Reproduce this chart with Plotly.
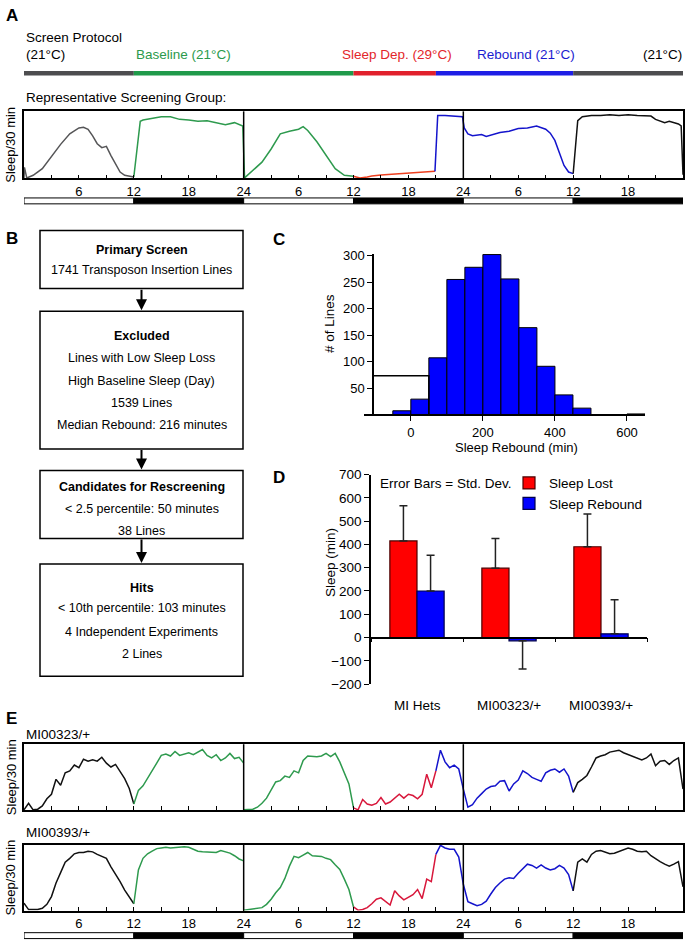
import plotly.graph_objects as go

W, H = 685, 952
def px(x):
    return x / W
def py(y):
    return 1 - y / H

FONT = "Liberation Sans, Arial, sans-serif"

# ---------------- Panel A : representative screening group (fraction of max sleep / 30 min) ----
a_gray_h = [0, 0.05, 0.3, 1, 2, 3, 4, 5, 6, 6.5, 7, 7.5, 8, 8.5, 9, 9.5, 10, 10.5, 11, 12]
a_gray = [0.0, 0.16, 0.0, 0.04, 0.14, 0.32, 0.51, 0.67, 0.76, 0.77, 0.74, 0.64, 0.52, 0.46, 0.48, 0.34, 0.21, 0.09, 0.04, 0.015]
a_green_h = [12, 12.7, 13, 14, 15, 16, 17, 18, 19, 20, 21, 22, 23, 23.9, 24.1, 25, 26, 27, 28, 29, 30, 30.5, 31, 32, 33, 34, 35, 36]
a_green = [0.015, 0.86, 0.88, 0.90, 0.93, 0.93, 0.89, 0.88, 0.86, 0.87, 0.84, 0.81, 0.84, 0.79, 0.0, 0.11, 0.24, 0.44, 0.67, 0.71, 0.74, 0.78, 0.72, 0.55, 0.34, 0.14, 0.04, 0.025]
a_red_h = [36, 36.7, 37.5, 38, 39, 40, 41, 42, 43, 44, 44.9]
a_red = [0.025, 0.0, 0.015, 0.03, 0.045, 0.055, 0.065, 0.072, 0.08, 0.09, 0.10]
a_blue_h = [44.9, 45.2, 46, 47, 47.9, 48.1, 48.5, 49, 50, 50.5, 51, 52, 53, 54, 55, 56, 57, 57.5, 58, 58.5, 59, 59.5, 60]
a_blue = [0.10, 0.95, 0.95, 0.94, 0.93, 0.76, 0.67, 0.64, 0.66, 0.63, 0.65, 0.69, 0.71, 0.75, 0.76, 0.79, 0.74, 0.68, 0.57, 0.37, 0.19, 0.09, 0.065]
a_black_h = [60, 60.5, 61, 62, 63, 64, 65, 66, 67, 68, 68.5, 69, 69.5, 70, 70.5, 71, 71.5, 71.8, 72]
a_black = [0.065, 0.87, 0.93, 0.95, 0.95, 0.96, 0.95, 0.96, 0.95, 0.95, 0.94, 0.89, 0.86, 0.84, 0.86, 0.84, 0.82, 0.79, 0.05]

# ---------------- Panel E : half-hour sleep traces, segments start at given hour -------------
e1_black1 = [0.0, 0.10, 0.0, 0.01, 0.06, 0.17, 0.24, 0.47, 0.38, 0.57, 0.60, 0.69, 0.65, 0.78, 0.75, 0.77, 0.75, 0.81, 0.72, 0.66, 0.70, 0.60, 0.48, 0.33, 0.09]
e1_green1 = [0.09, 0.30, 0.37, 0.48, 0.60, 0.72, 0.84, 0.86, 0.83, 0.90, 0.84, 0.86, 0.88, 0.85, 0.89, 0.93, 0.84, 0.80, 0.85, 0.76, 0.80, 0.87, 0.79, 0.81, 0.72]
e1_green2 = [0.0, 0.01, 0.01, 0.04, 0.10, 0.18, 0.30, 0.43, 0.45, 0.52, 0.50, 0.60, 0.57, 0.76, 0.83, 0.82, 0.82, 0.83, 0.87, 0.82, 0.87, 0.74, 0.58, 0.40, 0.03]
e1_red = [0.03, 0.0, 0.16, 0.09, 0.07, 0.10, 0.19, 0.09, 0.12, 0.18, 0.24, 0.18, 0.24, 0.22, 0.17, 0.24, 0.55, 0.34, 0.60]
e1_blue = [0.60, 0.92, 0.74, 0.65, 0.69, 0.63, 0.32, 0.04, 0.08, 0.18, 0.25, 0.32, 0.36, 0.37, 0.44, 0.45, 0.29, 0.40, 0.46, 0.60, 0.56, 0.50, 0.47, 0.44, 0.57, 0.61, 0.63, 0.58, 0.63, 0.52, 0.27]
e1_black2 = [0.27, 0.42, 0.47, 0.53, 0.66, 0.80, 0.83, 0.85, 0.89, 0.91, 0.92, 0.88, 0.85, 0.82, 0.80, 0.77, 0.80, 0.86, 0.68, 0.75, 0.76, 0.70, 0.76, 0.80, 0.32]

e2_black1 = [0.11, 0.01, 0.01, 0.01, 0.03, 0.09, 0.21, 0.42, 0.58, 0.74, 0.80, 0.87, 0.89, 0.89, 0.91, 0.90, 0.86, 0.83, 0.80, 0.67, 0.56, 0.44, 0.31, 0.21, 0.10]
e2_green1 = [0.10, 0.62, 0.80, 0.87, 0.91, 0.95, 0.96, 0.97, 0.96, 0.97, 0.98, 0.98, 0.97, 0.94, 0.91, 0.90, 0.90, 0.89, 0.89, 0.92, 0.90, 0.88, 0.84, 0.79, 0.76]
e2_green2 = [0.0, 0.01, 0.01, 0.02, 0.04, 0.09, 0.17, 0.27, 0.35, 0.49, 0.68, 0.83, 0.81, 0.85, 0.89, 0.84, 0.84, 0.83, 0.80, 0.78, 0.70, 0.63, 0.48, 0.32, 0.05]
e2_red = [0.05, 0.0, 0.01, 0.04, 0.10, 0.17, 0.19, 0.13, 0.08, 0.30, 0.22, 0.16, 0.20, 0.24, 0.32, 0.18, 0.48, 0.44, 0.86]
e2_blue = [0.86, 1.0, 0.96, 0.94, 0.94, 0.82, 0.40, 0.13, 0.10, 0.07, 0.09, 0.14, 0.25, 0.35, 0.42, 0.48, 0.50, 0.49, 0.57, 0.64, 0.71, 0.69, 0.65, 0.70, 0.65, 0.62, 0.64, 0.69, 0.65, 0.55, 0.30]
e2_black2 = [0.30, 0.74, 0.79, 0.74, 0.86, 0.91, 0.92, 0.89, 0.87, 0.88, 0.91, 0.94, 0.96, 0.94, 0.91, 0.90, 0.91, 0.84, 0.79, 0.75, 0.71, 0.68, 0.71, 0.75, 0.36]

# ---------------- Panel C : histogram of sleep rebound --------------------------------------
hist_left = [-50, 0, 50, 100, 150, 200, 250, 300, 350, 400, 450, 600]
hist_counts = [7, 29, 107, 255, 278, 302, 256, 164, 91, 37, 12, 1]
hist_bin = 50
cutoff_min = 50
cutoff_lines = 73
hist_axis_x = -105

# ---------------- Panel D : sleep lost / rebound ---------------------------------------------
d_groups = ['MI Hets', 'MI00323/+', 'MI00393/+']
d_lost = [415, 298, 390]
d_lost_sd = [151, 127, 141]
d_rebound = [200, -14, 16]
d_rebound_sd = [153, 121, 146]

# ---------------- axis text -------------------------------------------------------------------
hour_ticks = list(range(3, 72, 3))
hour_labels = ['', '6', '', '12', '', '18', '', '24', '', '6', '', '12', '', '18', '', '24',
               '', '6', '', '12', '', '18', '']
ld_start = [0, 12, 24, 36, 48, 60]
ld_fill = ['white', 'black', 'white', 'black', 'white', 'black']
proto_start = [0, 12, 36, 45, 60]
proto_end = [12, 36, 45, 60, 72]
proto_color = ['#4d4d4f', '#1f9a4a', '#e1202c', '#1e1ee6', '#4d4d4f']

C_GRAY = '#555557'
C_GREEN = '#2e9a4e'
C_RED_A = '#ee4020'
C_RED_E = '#d8173b'
C_BLUE = '#1414cc'
C_BLACK = '#111111'

fig = go.Figure()

def line_trace(xs, ys, color, xa, ya):
    fig.add_trace(go.Scatter(x=xs, y=ys, mode='lines', line=dict(color=color, width=1.5),
                             xaxis=xa, yaxis=ya, showlegend=False, hoverinfo='skip'))

for hs, vs, col in [(a_gray_h, a_gray, C_GRAY), (a_green_h, a_green, C_GREEN),
                    (a_red_h, a_red, C_RED_A), (a_blue_h, a_blue, C_BLUE),
                    (a_black_h, a_black, C_BLACK)]:
    line_trace(hs, vs, col, 'x', 'y')

def seg_hours(start, vals):
    return [start + 0.5 * i for i in range(len(vals))]

for (xa, ya), segs in [(('x4', 'y4'), [(0, e1_black1, C_BLACK), (12, e1_green1, C_GREEN),
                                       (24, e1_green2, C_GREEN), (36, e1_red, C_RED_E),
                                       (45, e1_blue, C_BLUE), (60, e1_black2, C_BLACK)]),
                       (('x5', 'y5'), [(0, e2_black1, C_BLACK), (12, e2_green1, C_GREEN),
                                       (24, e2_green2, C_GREEN), (36, e2_red, C_RED_E),
                                       (45, e2_blue, C_BLUE), (60, e2_black2, C_BLACK)])]:
    for st, vals, col in segs:
        line_trace(seg_hours(st, vals), vals, col, xa, ya)

# histogram
fig.add_trace(go.Bar(x=hist_left, y=hist_counts, width=hist_bin, offset=0,
                     marker=dict(color='#0000ff', line=dict(color='black', width=1)),
                     xaxis='x2', yaxis='y2', showlegend=False, hoverinfo='skip'))
fig.add_trace(go.Scatter(x=[hist_axis_x, cutoff_min, cutoff_min], y=[cutoff_lines, cutoff_lines, 0],
                         mode='lines', line=dict(color='black', width=1.5),
                         xaxis='x2', yaxis='y2', showlegend=False, hoverinfo='skip'))

# bar chart
def err(vals, sds):
    up = [s if v >= 0 else 0 for v, s in zip(vals, sds)]
    dn = [s if v < 0 else 0 for v, s in zip(vals, sds)]
    return dict(type='data', symmetric=False, array=up, arrayminus=dn,
                color='#222222', thickness=1.5, width=4)

fig.add_trace(go.Bar(x=d_groups, y=d_lost, name='Sleep Lost', error_y=err(d_lost, d_lost_sd),
                     marker=dict(color='#ff0000', line=dict(color='#4a0000', width=1.2)),
                     xaxis='x3', yaxis='y3', hoverinfo='skip'))
fig.add_trace(go.Bar(x=d_groups, y=d_rebound, name='Sleep Rebound', error_y=err(d_rebound, d_rebound_sd),
                     marker=dict(color='#0000ff', line=dict(color='#00004a', width=1.2)),
                     xaxis='x3', yaxis='y3', hoverinfo='skip'))

# ---------------- layout (pixel positions of the panels) -------------------------------------
A_TOP, A_BOT = 106, 174
E1_TOP, E1_BOT = 749, 816
E2_TOP, E2_BOT = 851, 918

box_x = dict(range=[0, 72], showline=True, mirror=True, linecolor='black', linewidth=1.5,
             ticks='inside', tickvals=hour_ticks, ticktext=hour_labels, ticklen=4, tickwidth=1,
             tickcolor='black', showgrid=False, zeroline=False,
             domain=[px(24), px(683)], tickfont=dict(size=13, color='black', family=FONT))
box_y = dict(range=[-0.005, 1.012], showline=True, mirror=True, linecolor='black', linewidth=1.5,
             showticklabels=False, ticks='', showgrid=False, zeroline=False)

hist_range = [-130, 650]
hx0, hx1 = px(364), px(645)
hist_y_pos = hx0 + (hist_axis_x - hist_range[0]) / (hist_range[1] - hist_range[0]) * (hx1 - hx0)

d_dom = [py(688), py(475)]
d_zero = d_dom[0] + (0 - (-200)) / 900 * (d_dom[1] - d_dom[0])

tf = dict(size=13.5, color='black', family=FONT)
tf13 = dict(size=13, color='black', family=FONT)

fig.update_layout(
    width=W, height=H, margin=dict(l=0, r=0, t=0, b=0),
    paper_bgcolor='white', plot_bgcolor='white',
    font=dict(family=FONT, color='black', size=13.5),
    barmode='group', bargap=0.41, bargroupgap=0,
    showlegend=True,
    legend=dict(x=px(509), y=py(468), xanchor='left', yanchor='top', font=dict(size=13.5),
                bgcolor='rgba(0,0,0,0)', tracegroupgap=0, itemwidth=30),
    xaxis=dict(box_x, anchor='y'),
    yaxis=dict(box_y, domain=[py(A_BOT), py(A_TOP)], anchor='x'),
    xaxis4=dict(box_x, anchor='y4', showticklabels=False),
    yaxis4=dict(box_y, domain=[py(E1_BOT), py(E1_TOP)], anchor='x4'),
    xaxis5=dict(box_x, anchor='y5'),
    yaxis5=dict(box_y, domain=[py(E2_BOT), py(E2_TOP)], anchor='x5'),
    xaxis2=dict(domain=[hx0, hx1], range=hist_range, anchor='y2', showline=True, linecolor='black',
                linewidth=1.5, ticks='outside', tickvals=[0, 200, 400, 600], ticklen=5,
                tickcolor='black', showgrid=False, zeroline=False, tickfont=tf13),
    yaxis2=dict(domain=[py(414), py(251)], range=[0, 303], anchor='free', position=hist_y_pos,
                showline=True, linecolor='black', linewidth=1.5, ticks='outside',
                tickvals=[50, 100, 150, 200, 250, 300], ticklen=5, tickcolor='black',
                showgrid=False, zeroline=False, tickfont=tf13),
    xaxis3=dict(domain=[px(371), px(647)], type='category', range=[-0.5, 2.5], anchor='free',
                position=d_zero, showline=True, linecolor='black', linewidth=1.5,
                ticks='outside', tickson='boundaries', ticklen=4, tickcolor='black',
                showticklabels=False, showgrid=False, zeroline=False),
    yaxis3=dict(domain=d_dom, range=[-200, 700], anchor='x3', showline=True, linecolor='black',
                linewidth=1.5, ticks='outside', dtick=100, tick0=0, ticklen=5, tickcolor='black',
                showgrid=False, zeroline=False, tickfont=tf),
)

shapes = []
# day dividers
for xa, ya in [('x', 'y'), ('x4', 'y4'), ('x5', 'y5')]:
    for d in [24, 48]:
        shapes.append(dict(type='line', xref=xa, yref=ya + ' domain', x0=d, x1=d, y0=0, y1=1,
                           line=dict(color='black', width=1.5)))
# light/dark bars
for ytop, ybot in [(194, 200), (940.5, 946.5)]:
    for st, fc in zip(ld_start, ld_fill):
        shapes.append(dict(type='rect', xref='x', yref='paper', x0=st, x1=st + 12,
                           y0=py(ybot), y1=py(ytop), fillcolor=fc,
                           line=dict(color='black', width=1)))
# protocol bar
for s, e, c in zip(proto_start, proto_end, proto_color):
    shapes.append(dict(type='rect', xref='x', yref='paper', x0=s, x1=e, y0=py(69.5), y1=py(65),
                       fillcolor=c, line=dict(width=0)))

# flowchart
flow_boxes = [(227, 286), (309, 449), (471, 540), (566, 680)]
for t, b in flow_boxes:
    shapes.append(dict(type='rect', xref='paper', yref='paper', x0=px(40), x1=px(243),
                       y0=py(b), y1=py(t), line=dict(color='black', width=1.5)))
fig.update_layout(shapes=shapes)

ann = []
def text(x, y, s, size=13.5, color='black', xanchor='left', angle=0, bold=False):
    ann.append(dict(x=px(x), y=py(y), xref='paper', yref='paper', text=('<b>%s</b>' % s) if bold else s,
                    showarrow=False, xanchor=xanchor, yanchor='middle', textangle=angle,
                    font=dict(size=size, color=color, family=FONT)))

for lab, x, y in [('A', 4, 9), ('B', 4, 235), ('C', 271, 236), ('D', 271, 478), ('E', 4, 723)]:
    text(x, y, lab, size=17, bold=True)

text(24, 31, 'Screen Protocol')
text(24, 48, '(21°C)')
text(134, 48, 'Baseline (21°C)', color='#2b9a4c')
text(340, 48, 'Sleep Dep. (29°C)', color='#e3262b')
text(475, 48, 'Rebound (21°C)', color='#1c1cd0')
text(684, 48, '(21°C)', xanchor='right')
text(24, 92, 'Representative Screening Group:')
for yc in [(A_TOP + A_BOT) / 2, (E1_TOP + E1_BOT) / 2, (E2_TOP + E2_BOT) / 2]:
    text(11, yc, 'Sleep/30 min', size=13, xanchor='center', angle=-90)
text(24, 739, 'MI00323/+')
text(24, 839, 'MI00393/+')

flow_titles = ['Primary Screen', 'Excluded', 'Candidates for Rescreening', 'Hits']
flow_title_y = [247, 334, 488, 590]
flow_lines = [['1741 Transposon Insertion Lines'],
              ['Lines with Low Sleep Loss', 'High Baseline Sleep (Day)', '1539 Lines',
               'Median Rebound: 216 minutes'],
              ['&lt; 2.5 percentile: 50 minutes', '38 Lines'],
              ['&lt; 10th percentile: 103 minutes', '4 Independent Experiments', '2 Lines']]
flow_line_y = [[267], [357, 380, 402, 425], [510, 532], [611, 635, 657]]
for t, ty, ls, lys in zip(flow_titles, flow_title_y, flow_lines, flow_line_y):
    text(141.5, ty, t, size=12.5, xanchor='center', bold=True)
    for l, ly in zip(ls, lys):
        text(141.5, ly, l, size=12.5, xanchor='center')
for (t0, b0), (t1, b1) in zip(flow_boxes[:-1], flow_boxes[1:]):
    ann.append(dict(x=px(141.5), y=py(t1 - 1), xref='paper', yref='paper', text='',
                    showarrow=True, ax=0, ay=-(t1 - 1 - b0), arrowhead=2, arrowsize=1.1,
                    arrowwidth=2, arrowcolor='black', standoff=0))

text(330, 322, '# of Lines', xanchor='center', angle=-90)
text(516, 448, 'Sleep Rebound (min)', size=13, xanchor='center')
text(330, 565, 'Sleep (min)', xanchor='center', angle=-90)
text(378, 484, 'Error Bars = Std. Dev.')
for g in d_groups:
    ann.append(dict(x=g, y=py(710), xref='x3', yref='paper', text=g, showarrow=False,
                    xanchor='center', yanchor='middle', font=dict(size=13.5, color='black', family=FONT)))

fig.update_layout(annotations=ann)
fig.write_html('out.html', config={'displayModeBar': False},
               post_script="document.body.style.margin='0';document.body.style.overflow='hidden';")
